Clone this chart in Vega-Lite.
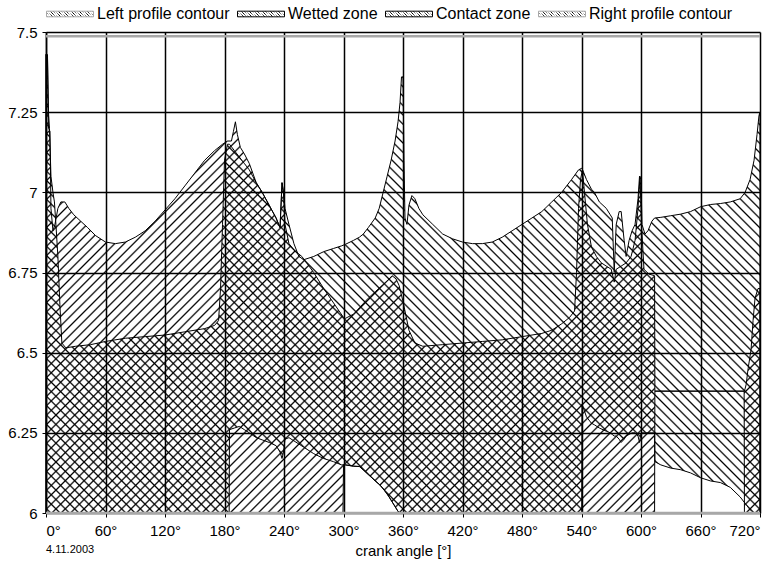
{
  "$schema": "https://vega.github.io/schema/vega-lite/v6.json",
  "autosize": "none",
  "width": 714,
  "height": 481,
  "padding": {"left": 46, "top": 32, "right": 20, "bottom": 49},
  "background": "white",
  "config": {
    "font": "Liberation Sans",
    "view": {"stroke": null},
    "axis": {
      "labelColor": "black", "labelFontSize": 15, "labelFont": "Liberation Sans",
      "tickColor": "black", "tickSize": 4, "tickWidth": 1,
      "domainColor": "black", "domainWidth": 1.5,
      "grid": true, "gridColor": "black", "gridWidth": 1.5, "gridOpacity": 1,
      "titleColor": "black", "titleFontSize": 15, "titleFontWeight": "normal", "titleFont": "Liberation Sans"
    }
  },
  "title": {
    "text": "4.11.2003", "orient": "bottom", "anchor": "start", "frame": "group",
    "fontSize": 11, "fontWeight": "normal", "color": "black", "offset": -14
  },
  "datasets": {
    "wetted": [
      {"angle": 0, "lo": 6.0, "hi": 7.43}, {"angle": 1.5, "lo": 6.0, "hi": 7.42}, {"angle": 2.5, "lo": 6.0, "hi": 7.25},
      {"angle": 3.5, "lo": 6.0, "hi": 7.2}, {"angle": 5, "lo": 6.0, "hi": 7.05}, {"angle": 7, "lo": 6.0, "hi": 7.0},
      {"angle": 8.5, "lo": 6.0, "hi": 6.97}, {"angle": 10, "lo": 6.0, "hi": 6.9}, {"angle": 12, "lo": 6.0, "hi": 6.8},
      {"angle": 14, "lo": 6.0, "hi": 6.65}, {"angle": 16, "lo": 6.0, "hi": 6.53}, {"angle": 20, "lo": 6.0, "hi": 6.515},
      {"angle": 30, "lo": 6.0, "hi": 6.52}, {"angle": 45, "lo": 6.0, "hi": 6.525}, {"angle": 60, "lo": 6.0, "hi": 6.535},
      {"angle": 80, "lo": 6.0, "hi": 6.545}, {"angle": 100, "lo": 6.0, "hi": 6.55}, {"angle": 120, "lo": 6.0, "hi": 6.555},
      {"angle": 140, "lo": 6.0, "hi": 6.565}, {"angle": 160, "lo": 6.0, "hi": 6.575}, {"angle": 170, "lo": 6.0, "hi": 6.585},
      {"angle": 174, "lo": 6.0, "hi": 6.6}, {"angle": 176, "lo": 6.0, "hi": 6.7}, {"angle": 178, "lo": 6.0, "hi": 6.9},
      {"angle": 180, "lo": 6.0, "hi": 7.1}, {"angle": 183, "lo": 6.0, "hi": 7.15}, {"angle": 184.7, "lo": 6.0, "hi": 7.15},
      {"angle": 185, "lo": 6.26, "hi": 7.15}, {"angle": 190, "lo": 6.265, "hi": 7.13}, {"angle": 195, "lo": 6.27, "hi": 7.11},
      {"angle": 200, "lo": 6.26, "hi": 7.09}, {"angle": 205, "lo": 6.25, "hi": 7.07}, {"angle": 212, "lo": 6.235, "hi": 7.03},
      {"angle": 218, "lo": 6.228, "hi": 7.0}, {"angle": 225, "lo": 6.22, "hi": 6.96}, {"angle": 232, "lo": 6.21, "hi": 6.92},
      {"angle": 236, "lo": 6.19, "hi": 6.89}, {"angle": 238, "lo": 6.17, "hi": 7.03}, {"angle": 239.5, "lo": 6.19, "hi": 7.0},
      {"angle": 241, "lo": 6.23, "hi": 6.95}, {"angle": 245, "lo": 6.235, "hi": 6.9}, {"angle": 250, "lo": 6.225, "hi": 6.84},
      {"angle": 255, "lo": 6.215, "hi": 6.8}, {"angle": 260, "lo": 6.205, "hi": 6.79}, {"angle": 270, "lo": 6.185, "hi": 6.8},
      {"angle": 280, "lo": 6.17, "hi": 6.815}, {"angle": 290, "lo": 6.16, "hi": 6.825}, {"angle": 298, "lo": 6.15, "hi": 6.833},
      {"angle": 302, "lo": 6.15, "hi": 6.838}, {"angle": 310, "lo": 6.146, "hi": 6.85}, {"angle": 316, "lo": 6.145, "hi": 6.86},
      {"angle": 320, "lo": 6.135, "hi": 6.87}, {"angle": 325, "lo": 6.12, "hi": 6.89}, {"angle": 332, "lo": 6.1, "hi": 6.92},
      {"angle": 336, "lo": 6.09, "hi": 6.95}, {"angle": 340, "lo": 6.075, "hi": 7.0}, {"angle": 344, "lo": 6.06, "hi": 7.05},
      {"angle": 348, "lo": 6.04, "hi": 7.1}, {"angle": 352, "lo": 6.02, "hi": 7.16}, {"angle": 355, "lo": 6.005, "hi": 7.22},
      {"angle": 357, "lo": 6.0, "hi": 7.28}, {"angle": 358.5, "lo": 6.0, "hi": 7.36}, {"angle": 360, "lo": 6.0, "hi": 7.36},
      {"angle": 361, "lo": 6.0, "hi": 7.1}, {"angle": 362, "lo": 6.0, "hi": 6.92}, {"angle": 364, "lo": 6.0, "hi": 6.9},
      {"angle": 366, "lo": 6.0, "hi": 6.96}, {"angle": 369, "lo": 6.0, "hi": 6.99}, {"angle": 372, "lo": 6.0, "hi": 6.98},
      {"angle": 376, "lo": 6.0, "hi": 6.95}, {"angle": 380, "lo": 6.0, "hi": 6.93}, {"angle": 390, "lo": 6.0, "hi": 6.9},
      {"angle": 400, "lo": 6.0, "hi": 6.87}, {"angle": 410, "lo": 6.0, "hi": 6.855}, {"angle": 420, "lo": 6.0, "hi": 6.845},
      {"angle": 430, "lo": 6.0, "hi": 6.84}, {"angle": 440, "lo": 6.0, "hi": 6.84}, {"angle": 450, "lo": 6.0, "hi": 6.845},
      {"angle": 460, "lo": 6.0, "hi": 6.86}, {"angle": 470, "lo": 6.0, "hi": 6.88}, {"angle": 480, "lo": 6.0, "hi": 6.9},
      {"angle": 490, "lo": 6.0, "hi": 6.92}, {"angle": 500, "lo": 6.0, "hi": 6.94}, {"angle": 510, "lo": 6.0, "hi": 6.97},
      {"angle": 520, "lo": 6.0, "hi": 7.0}, {"angle": 530, "lo": 6.0, "hi": 7.04}, {"angle": 537, "lo": 6.0, "hi": 7.07},
      {"angle": 540.2, "lo": 6.0, "hi": 7.075}, {"angle": 540.5, "lo": 6.34, "hi": 7.075}, {"angle": 545, "lo": 6.3, "hi": 7.04},
      {"angle": 550, "lo": 6.28, "hi": 7.01}, {"angle": 553, "lo": 6.275, "hi": 7.0}, {"angle": 558, "lo": 6.265, "hi": 6.97},
      {"angle": 565, "lo": 6.255, "hi": 6.95}, {"angle": 569, "lo": 6.25, "hi": 6.93}, {"angle": 571, "lo": 6.245, "hi": 6.92},
      {"angle": 573, "lo": 6.24, "hi": 6.75}, {"angle": 575, "lo": 6.24, "hi": 6.9}, {"angle": 578, "lo": 6.23, "hi": 6.94},
      {"angle": 580, "lo": 6.22, "hi": 6.94}, {"angle": 583, "lo": 6.23, "hi": 6.85}, {"angle": 585, "lo": 6.24, "hi": 6.8},
      {"angle": 588, "lo": 6.245, "hi": 6.85}, {"angle": 591, "lo": 6.25, "hi": 6.88}, {"angle": 594, "lo": 6.25, "hi": 6.9},
      {"angle": 597, "lo": 6.24, "hi": 6.98}, {"angle": 598.5, "lo": 6.22, "hi": 7.05}, {"angle": 600, "lo": 6.25, "hi": 7.04},
      {"angle": 601, "lo": 6.25, "hi": 6.9}, {"angle": 604, "lo": 6.25, "hi": 6.87}, {"angle": 607, "lo": 6.25, "hi": 6.88},
      {"angle": 611, "lo": 6.25, "hi": 6.91}, {"angle": 613.7, "lo": 6.25, "hi": 6.92}, {"angle": 614, "lo": 6.16, "hi": 6.92},
      {"angle": 620, "lo": 6.15, "hi": 6.922}, {"angle": 630, "lo": 6.14, "hi": 6.927}, {"angle": 640, "lo": 6.135, "hi": 6.932},
      {"angle": 650, "lo": 6.125, "hi": 6.94}, {"angle": 660, "lo": 6.11, "hi": 6.955}, {"angle": 670, "lo": 6.1, "hi": 6.962},
      {"angle": 680, "lo": 6.095, "hi": 6.965}, {"angle": 690, "lo": 6.08, "hi": 6.97}, {"angle": 700, "lo": 6.05, "hi": 6.98},
      {"angle": 705, "lo": 6.03, "hi": 7.0}, {"angle": 710, "lo": 6.01, "hi": 7.04}, {"angle": 714, "lo": 6.0, "hi": 7.1},
      {"angle": 717, "lo": 6.0, "hi": 7.18}, {"angle": 719, "lo": 6.0, "hi": 7.24}, {"angle": 720, "lo": 6.0, "hi": 7.25}
    ],
    "contact": [
      {"angle": 0, "lo": 6.0, "hi": 7.43}, {"angle": 1.5, "lo": 6.0, "hi": 7.43}, {"angle": 2.5, "lo": 6.0, "hi": 7.2},
      {"angle": 4, "lo": 6.0, "hi": 7.19}, {"angle": 5, "lo": 6.0, "hi": 6.95}, {"angle": 7, "lo": 6.0, "hi": 6.88},
      {"angle": 9, "lo": 6.0, "hi": 6.9}, {"angle": 12, "lo": 6.0, "hi": 6.95}, {"angle": 15, "lo": 6.0, "hi": 6.97},
      {"angle": 19, "lo": 6.0, "hi": 6.97}, {"angle": 23, "lo": 6.0, "hi": 6.95}, {"angle": 28, "lo": 6.0, "hi": 6.93},
      {"angle": 35, "lo": 6.0, "hi": 6.91}, {"angle": 42, "lo": 6.0, "hi": 6.89}, {"angle": 50, "lo": 6.0, "hi": 6.865},
      {"angle": 60, "lo": 6.0, "hi": 6.845}, {"angle": 70, "lo": 6.0, "hi": 6.84}, {"angle": 80, "lo": 6.0, "hi": 6.845},
      {"angle": 90, "lo": 6.0, "hi": 6.86}, {"angle": 100, "lo": 6.0, "hi": 6.88}, {"angle": 110, "lo": 6.0, "hi": 6.91},
      {"angle": 120, "lo": 6.0, "hi": 6.945}, {"angle": 130, "lo": 6.0, "hi": 6.98}, {"angle": 140, "lo": 6.0, "hi": 7.02},
      {"angle": 150, "lo": 6.0, "hi": 7.06}, {"angle": 160, "lo": 6.0, "hi": 7.1}, {"angle": 170, "lo": 6.0, "hi": 7.13},
      {"angle": 178, "lo": 6.0, "hi": 7.15}, {"angle": 183, "lo": 6.0, "hi": 7.16}, {"angle": 187, "lo": 6.0, "hi": 7.16},
      {"angle": 189, "lo": 6.0, "hi": 7.19}, {"angle": 191, "lo": 6.0, "hi": 7.22}, {"angle": 193, "lo": 6.0, "hi": 7.18},
      {"angle": 196, "lo": 6.0, "hi": 7.14}, {"angle": 200, "lo": 6.0, "hi": 7.12}, {"angle": 205, "lo": 6.0, "hi": 7.09},
      {"angle": 212, "lo": 6.0, "hi": 7.03}, {"angle": 218, "lo": 6.0, "hi": 7.0}, {"angle": 225, "lo": 6.0, "hi": 6.96},
      {"angle": 232, "lo": 6.0, "hi": 6.92}, {"angle": 236, "lo": 6.0, "hi": 6.89}, {"angle": 238, "lo": 6.0, "hi": 7.03},
      {"angle": 239.5, "lo": 6.0, "hi": 7.0}, {"angle": 241, "lo": 6.0, "hi": 6.9}, {"angle": 245, "lo": 6.0, "hi": 6.84},
      {"angle": 250, "lo": 6.0, "hi": 6.82}, {"angle": 258, "lo": 6.0, "hi": 6.8}, {"angle": 270, "lo": 6.0, "hi": 6.75},
      {"angle": 280, "lo": 6.0, "hi": 6.7}, {"angle": 290, "lo": 6.0, "hi": 6.655}, {"angle": 299.5, "lo": 6.0, "hi": 6.612},
      {"angle": 300, "lo": 6.15, "hi": 6.61}, {"angle": 302, "lo": 6.15, "hi": 6.607}, {"angle": 310, "lo": 6.146, "hi": 6.62},
      {"angle": 316, "lo": 6.145, "hi": 6.64}, {"angle": 325, "lo": 6.12, "hi": 6.67}, {"angle": 332, "lo": 6.1, "hi": 6.69},
      {"angle": 339, "lo": 6.08, "hi": 6.71}, {"angle": 346, "lo": 6.05, "hi": 6.73}, {"angle": 349, "lo": 6.035, "hi": 6.74},
      {"angle": 353, "lo": 6.015, "hi": 6.73}, {"angle": 356, "lo": 6.0, "hi": 6.71}, {"angle": 360, "lo": 6.0, "hi": 6.66},
      {"angle": 366, "lo": 6.0, "hi": 6.57}, {"angle": 372, "lo": 6.0, "hi": 6.53}, {"angle": 380, "lo": 6.0, "hi": 6.52},
      {"angle": 400, "lo": 6.0, "hi": 6.525}, {"angle": 420, "lo": 6.0, "hi": 6.53}, {"angle": 440, "lo": 6.0, "hi": 6.535},
      {"angle": 460, "lo": 6.0, "hi": 6.54}, {"angle": 480, "lo": 6.0, "hi": 6.55}, {"angle": 500, "lo": 6.0, "hi": 6.56},
      {"angle": 510, "lo": 6.0, "hi": 6.57}, {"angle": 520, "lo": 6.0, "hi": 6.59}, {"angle": 528, "lo": 6.0, "hi": 6.61},
      {"angle": 533, "lo": 6.0, "hi": 6.63}, {"angle": 535, "lo": 6.0, "hi": 6.75}, {"angle": 537, "lo": 6.0, "hi": 6.95},
      {"angle": 539, "lo": 6.0, "hi": 7.04}, {"angle": 541, "lo": 6.0, "hi": 7.07}, {"angle": 543, "lo": 6.0, "hi": 7.0},
      {"angle": 546, "lo": 6.0, "hi": 6.9}, {"angle": 550, "lo": 6.0, "hi": 6.83}, {"angle": 555, "lo": 6.0, "hi": 6.8},
      {"angle": 560, "lo": 6.0, "hi": 6.78}, {"angle": 565, "lo": 6.0, "hi": 6.77}, {"angle": 570, "lo": 6.0, "hi": 6.76},
      {"angle": 573, "lo": 6.0, "hi": 6.72}, {"angle": 575, "lo": 6.0, "hi": 6.76}, {"angle": 580, "lo": 6.0, "hi": 6.77},
      {"angle": 585, "lo": 6.0, "hi": 6.78}, {"angle": 590, "lo": 6.0, "hi": 6.8}, {"angle": 594, "lo": 6.0, "hi": 6.85},
      {"angle": 597, "lo": 6.0, "hi": 6.95}, {"angle": 599, "lo": 6.0, "hi": 7.05}, {"angle": 600.5, "lo": 6.0, "hi": 6.9},
      {"angle": 603, "lo": 6.0, "hi": 6.76}, {"angle": 608, "lo": 6.0, "hi": 6.745}, {"angle": 613.7, "lo": 6.0, "hi": 6.74},
      {"angle": 614, "lo": 6.38, "hi": 6.38}, {"angle": 704, "lo": 6.38, "hi": 6.38}, {"angle": 704.3, "lo": 6.0, "hi": 6.38},
      {"angle": 706, "lo": 6.0, "hi": 6.4}, {"angle": 708, "lo": 6.0, "hi": 6.45}, {"angle": 711, "lo": 6.0, "hi": 6.51},
      {"angle": 713, "lo": 6.0, "hi": 6.6}, {"angle": 715, "lo": 6.0, "hi": 6.67}, {"angle": 718, "lo": 6.0, "hi": 6.7},
      {"angle": 720, "lo": 6.0, "hi": 6.7}
    ],
    "profiles": [
      {"series": "Left profile contour", "angle": 0, "value": 7.487},
      {"series": "Left profile contour", "angle": 720, "value": 7.487},
      {"series": "Right profile contour", "angle": 0, "value": 6.0},
      {"series": "Right profile contour", "angle": 720, "value": 6.0}
    ]
  },
  "encoding": {
    "x": {
      "field": "angle", "type": "quantitative",
      "scale": {"domain": [0, 720], "nice": false, "zero": false},
      "axis": {
        "values": [0, 60, 120, 180, 240, 300, 360, 420, 480, 540, 600, 660, 720],
        "labelExpr": "datum.value + '°'", "labelPadding": 6, "domain": false,
        "title": "crank angle [°]", "titlePadding": 5
      }
    }
  },
  "layer": [
    {
      "data": {"name": "wetted"},
      "mark": {
        "type": "area", "strokeWidth": 1, "fillOpacity": 1,
        "fill": {
          "gradient": "linear", "x1": 0, "y1": 1, "x2": 1.1627, "y2": 0.2533,
          "stops": [
{"offset":0.0025,"color":"#0000"},{"offset":0.004,"color":"#000"},{"offset":0.0055,"color":"#0000"},
{"offset":0.0105,"color":"#0000"},{"offset":0.012,"color":"#000"},{"offset":0.0135,"color":"#0000"},
{"offset":0.0185,"color":"#0000"},{"offset":0.020,"color":"#000"},{"offset":0.0215,"color":"#0000"},
{"offset":0.0265,"color":"#0000"},{"offset":0.028,"color":"#000"},{"offset":0.0295,"color":"#0000"},
{"offset":0.0345,"color":"#0000"},{"offset":0.036,"color":"#000"},{"offset":0.0375,"color":"#0000"},
{"offset":0.0425,"color":"#0000"},{"offset":0.044,"color":"#000"},{"offset":0.0455,"color":"#0000"},
{"offset":0.0505,"color":"#0000"},{"offset":0.052,"color":"#000"},{"offset":0.0535,"color":"#0000"},
{"offset":0.0585,"color":"#0000"},{"offset":0.060,"color":"#000"},{"offset":0.0615,"color":"#0000"},
{"offset":0.0665,"color":"#0000"},{"offset":0.068,"color":"#000"},{"offset":0.0695,"color":"#0000"},
{"offset":0.0745,"color":"#0000"},{"offset":0.076,"color":"#000"},{"offset":0.0775,"color":"#0000"},
{"offset":0.0825,"color":"#0000"},{"offset":0.084,"color":"#000"},{"offset":0.0855,"color":"#0000"},
{"offset":0.0905,"color":"#0000"},{"offset":0.092,"color":"#000"},{"offset":0.0935,"color":"#0000"},
{"offset":0.0985,"color":"#0000"},{"offset":0.100,"color":"#000"},{"offset":0.1015,"color":"#0000"},
{"offset":0.1065,"color":"#0000"},{"offset":0.108,"color":"#000"},{"offset":0.1095,"color":"#0000"},
{"offset":0.1145,"color":"#0000"},{"offset":0.116,"color":"#000"},{"offset":0.1175,"color":"#0000"},
{"offset":0.1225,"color":"#0000"},{"offset":0.124,"color":"#000"},{"offset":0.1255,"color":"#0000"},
{"offset":0.1305,"color":"#0000"},{"offset":0.132,"color":"#000"},{"offset":0.1335,"color":"#0000"},
{"offset":0.1385,"color":"#0000"},{"offset":0.140,"color":"#000"},{"offset":0.1415,"color":"#0000"},
{"offset":0.1465,"color":"#0000"},{"offset":0.148,"color":"#000"},{"offset":0.1495,"color":"#0000"},
{"offset":0.1545,"color":"#0000"},{"offset":0.156,"color":"#000"},{"offset":0.1575,"color":"#0000"},
{"offset":0.1625,"color":"#0000"},{"offset":0.164,"color":"#000"},{"offset":0.1655,"color":"#0000"},
{"offset":0.1705,"color":"#0000"},{"offset":0.172,"color":"#000"},{"offset":0.1735,"color":"#0000"},
{"offset":0.1785,"color":"#0000"},{"offset":0.180,"color":"#000"},{"offset":0.1815,"color":"#0000"},
{"offset":0.1865,"color":"#0000"},{"offset":0.188,"color":"#000"},{"offset":0.1895,"color":"#0000"},
{"offset":0.1945,"color":"#0000"},{"offset":0.196,"color":"#000"},{"offset":0.1975,"color":"#0000"},
{"offset":0.2025,"color":"#0000"},{"offset":0.204,"color":"#000"},{"offset":0.2055,"color":"#0000"},
{"offset":0.2105,"color":"#0000"},{"offset":0.212,"color":"#000"},{"offset":0.2135,"color":"#0000"},
{"offset":0.2185,"color":"#0000"},{"offset":0.220,"color":"#000"},{"offset":0.2215,"color":"#0000"},
{"offset":0.2265,"color":"#0000"},{"offset":0.228,"color":"#000"},{"offset":0.2295,"color":"#0000"},
{"offset":0.2345,"color":"#0000"},{"offset":0.236,"color":"#000"},{"offset":0.2375,"color":"#0000"},
{"offset":0.2425,"color":"#0000"},{"offset":0.244,"color":"#000"},{"offset":0.2455,"color":"#0000"},
{"offset":0.2505,"color":"#0000"},{"offset":0.252,"color":"#000"},{"offset":0.2535,"color":"#0000"},
{"offset":0.2585,"color":"#0000"},{"offset":0.260,"color":"#000"},{"offset":0.2615,"color":"#0000"},
{"offset":0.2665,"color":"#0000"},{"offset":0.268,"color":"#000"},{"offset":0.2695,"color":"#0000"},
{"offset":0.2745,"color":"#0000"},{"offset":0.276,"color":"#000"},{"offset":0.2775,"color":"#0000"},
{"offset":0.2825,"color":"#0000"},{"offset":0.284,"color":"#000"},{"offset":0.2855,"color":"#0000"},
{"offset":0.2905,"color":"#0000"},{"offset":0.292,"color":"#000"},{"offset":0.2935,"color":"#0000"},
{"offset":0.2985,"color":"#0000"},{"offset":0.300,"color":"#000"},{"offset":0.3015,"color":"#0000"},
{"offset":0.3065,"color":"#0000"},{"offset":0.308,"color":"#000"},{"offset":0.3095,"color":"#0000"},
{"offset":0.3145,"color":"#0000"},{"offset":0.316,"color":"#000"},{"offset":0.3175,"color":"#0000"},
{"offset":0.3225,"color":"#0000"},{"offset":0.324,"color":"#000"},{"offset":0.3255,"color":"#0000"},
{"offset":0.3305,"color":"#0000"},{"offset":0.332,"color":"#000"},{"offset":0.3335,"color":"#0000"},
{"offset":0.3385,"color":"#0000"},{"offset":0.340,"color":"#000"},{"offset":0.3415,"color":"#0000"},
{"offset":0.3465,"color":"#0000"},{"offset":0.348,"color":"#000"},{"offset":0.3495,"color":"#0000"},
{"offset":0.3545,"color":"#0000"},{"offset":0.356,"color":"#000"},{"offset":0.3575,"color":"#0000"},
{"offset":0.3625,"color":"#0000"},{"offset":0.364,"color":"#000"},{"offset":0.3655,"color":"#0000"},
{"offset":0.3705,"color":"#0000"},{"offset":0.372,"color":"#000"},{"offset":0.3735,"color":"#0000"},
{"offset":0.3785,"color":"#0000"},{"offset":0.380,"color":"#000"},{"offset":0.3815,"color":"#0000"},
{"offset":0.3865,"color":"#0000"},{"offset":0.388,"color":"#000"},{"offset":0.3895,"color":"#0000"},
{"offset":0.3945,"color":"#0000"},{"offset":0.396,"color":"#000"},{"offset":0.3975,"color":"#0000"},
{"offset":0.4025,"color":"#0000"},{"offset":0.404,"color":"#000"},{"offset":0.4055,"color":"#0000"},
{"offset":0.4105,"color":"#0000"},{"offset":0.412,"color":"#000"},{"offset":0.4135,"color":"#0000"},
{"offset":0.4185,"color":"#0000"},{"offset":0.420,"color":"#000"},{"offset":0.4215,"color":"#0000"},
{"offset":0.4265,"color":"#0000"},{"offset":0.428,"color":"#000"},{"offset":0.4295,"color":"#0000"},
{"offset":0.4345,"color":"#0000"},{"offset":0.436,"color":"#000"},{"offset":0.4375,"color":"#0000"},
{"offset":0.4425,"color":"#0000"},{"offset":0.444,"color":"#000"},{"offset":0.4455,"color":"#0000"},
{"offset":0.4505,"color":"#0000"},{"offset":0.452,"color":"#000"},{"offset":0.4535,"color":"#0000"},
{"offset":0.4585,"color":"#0000"},{"offset":0.460,"color":"#000"},{"offset":0.4615,"color":"#0000"},
{"offset":0.4665,"color":"#0000"},{"offset":0.468,"color":"#000"},{"offset":0.4695,"color":"#0000"},
{"offset":0.4745,"color":"#0000"},{"offset":0.476,"color":"#000"},{"offset":0.4775,"color":"#0000"},
{"offset":0.4825,"color":"#0000"},{"offset":0.484,"color":"#000"},{"offset":0.4855,"color":"#0000"},
{"offset":0.4905,"color":"#0000"},{"offset":0.492,"color":"#000"},{"offset":0.4935,"color":"#0000"},
{"offset":0.4985,"color":"#0000"},{"offset":0.500,"color":"#000"},{"offset":0.5015,"color":"#0000"},
{"offset":0.5065,"color":"#0000"},{"offset":0.508,"color":"#000"},{"offset":0.5095,"color":"#0000"},
{"offset":0.5145,"color":"#0000"},{"offset":0.516,"color":"#000"},{"offset":0.5175,"color":"#0000"},
{"offset":0.5225,"color":"#0000"},{"offset":0.524,"color":"#000"},{"offset":0.5255,"color":"#0000"},
{"offset":0.5305,"color":"#0000"},{"offset":0.532,"color":"#000"},{"offset":0.5335,"color":"#0000"},
{"offset":0.5385,"color":"#0000"},{"offset":0.540,"color":"#000"},{"offset":0.5415,"color":"#0000"},
{"offset":0.5465,"color":"#0000"},{"offset":0.548,"color":"#000"},{"offset":0.5495,"color":"#0000"},
{"offset":0.5545,"color":"#0000"},{"offset":0.556,"color":"#000"},{"offset":0.5575,"color":"#0000"},
{"offset":0.5625,"color":"#0000"},{"offset":0.564,"color":"#000"},{"offset":0.5655,"color":"#0000"},
{"offset":0.5705,"color":"#0000"},{"offset":0.572,"color":"#000"},{"offset":0.5735,"color":"#0000"},
{"offset":0.5785,"color":"#0000"},{"offset":0.580,"color":"#000"},{"offset":0.5815,"color":"#0000"},
{"offset":0.5865,"color":"#0000"},{"offset":0.588,"color":"#000"},{"offset":0.5895,"color":"#0000"},
{"offset":0.5945,"color":"#0000"},{"offset":0.596,"color":"#000"},{"offset":0.5975,"color":"#0000"},
{"offset":0.6025,"color":"#0000"},{"offset":0.604,"color":"#000"},{"offset":0.6055,"color":"#0000"},
{"offset":0.6105,"color":"#0000"},{"offset":0.612,"color":"#000"},{"offset":0.6135,"color":"#0000"},
{"offset":0.6185,"color":"#0000"},{"offset":0.620,"color":"#000"},{"offset":0.6215,"color":"#0000"},
{"offset":0.6265,"color":"#0000"},{"offset":0.628,"color":"#000"},{"offset":0.6295,"color":"#0000"},
{"offset":0.6345,"color":"#0000"},{"offset":0.636,"color":"#000"},{"offset":0.6375,"color":"#0000"},
{"offset":0.6425,"color":"#0000"},{"offset":0.644,"color":"#000"},{"offset":0.6455,"color":"#0000"},
{"offset":0.6505,"color":"#0000"},{"offset":0.652,"color":"#000"},{"offset":0.6535,"color":"#0000"},
{"offset":0.6585,"color":"#0000"},{"offset":0.660,"color":"#000"},{"offset":0.6615,"color":"#0000"},
{"offset":0.6665,"color":"#0000"},{"offset":0.668,"color":"#000"},{"offset":0.6695,"color":"#0000"},
{"offset":0.6745,"color":"#0000"},{"offset":0.676,"color":"#000"},{"offset":0.6775,"color":"#0000"},
{"offset":0.6825,"color":"#0000"},{"offset":0.684,"color":"#000"},{"offset":0.6855,"color":"#0000"},
{"offset":0.6905,"color":"#0000"},{"offset":0.692,"color":"#000"},{"offset":0.6935,"color":"#0000"},
{"offset":0.6985,"color":"#0000"},{"offset":0.700,"color":"#000"},{"offset":0.7015,"color":"#0000"},
{"offset":0.7065,"color":"#0000"},{"offset":0.708,"color":"#000"},{"offset":0.7095,"color":"#0000"},
{"offset":0.7145,"color":"#0000"},{"offset":0.716,"color":"#000"},{"offset":0.7175,"color":"#0000"},
{"offset":0.7225,"color":"#0000"},{"offset":0.724,"color":"#000"},{"offset":0.7255,"color":"#0000"},
{"offset":0.7305,"color":"#0000"},{"offset":0.732,"color":"#000"},{"offset":0.7335,"color":"#0000"},
{"offset":0.7385,"color":"#0000"},{"offset":0.740,"color":"#000"},{"offset":0.7415,"color":"#0000"},
{"offset":0.7465,"color":"#0000"},{"offset":0.748,"color":"#000"},{"offset":0.7495,"color":"#0000"},
{"offset":0.7545,"color":"#0000"},{"offset":0.756,"color":"#000"},{"offset":0.7575,"color":"#0000"},
{"offset":0.7625,"color":"#0000"},{"offset":0.764,"color":"#000"},{"offset":0.7655,"color":"#0000"},
{"offset":0.7705,"color":"#0000"},{"offset":0.772,"color":"#000"},{"offset":0.7735,"color":"#0000"},
{"offset":0.7785,"color":"#0000"},{"offset":0.780,"color":"#000"},{"offset":0.7815,"color":"#0000"},
{"offset":0.7865,"color":"#0000"},{"offset":0.788,"color":"#000"},{"offset":0.7895,"color":"#0000"},
{"offset":0.7945,"color":"#0000"},{"offset":0.796,"color":"#000"},{"offset":0.7975,"color":"#0000"},
{"offset":0.8025,"color":"#0000"},{"offset":0.804,"color":"#000"},{"offset":0.8055,"color":"#0000"},
{"offset":0.8105,"color":"#0000"},{"offset":0.812,"color":"#000"},{"offset":0.8135,"color":"#0000"},
{"offset":0.8185,"color":"#0000"},{"offset":0.820,"color":"#000"},{"offset":0.8215,"color":"#0000"},
{"offset":0.8265,"color":"#0000"},{"offset":0.828,"color":"#000"},{"offset":0.8295,"color":"#0000"},
{"offset":0.8345,"color":"#0000"},{"offset":0.836,"color":"#000"},{"offset":0.8375,"color":"#0000"},
{"offset":0.8425,"color":"#0000"},{"offset":0.844,"color":"#000"},{"offset":0.8455,"color":"#0000"},
{"offset":0.8505,"color":"#0000"},{"offset":0.852,"color":"#000"},{"offset":0.8535,"color":"#0000"},
{"offset":0.8585,"color":"#0000"},{"offset":0.860,"color":"#000"},{"offset":0.8615,"color":"#0000"},
{"offset":0.8665,"color":"#0000"},{"offset":0.868,"color":"#000"},{"offset":0.8695,"color":"#0000"},
{"offset":0.8745,"color":"#0000"},{"offset":0.876,"color":"#000"},{"offset":0.8775,"color":"#0000"},
{"offset":0.8825,"color":"#0000"},{"offset":0.884,"color":"#000"},{"offset":0.8855,"color":"#0000"},
{"offset":0.8905,"color":"#0000"},{"offset":0.892,"color":"#000"},{"offset":0.8935,"color":"#0000"},
{"offset":0.8985,"color":"#0000"},{"offset":0.900,"color":"#000"},{"offset":0.9015,"color":"#0000"},
{"offset":0.9065,"color":"#0000"},{"offset":0.908,"color":"#000"},{"offset":0.9095,"color":"#0000"},
{"offset":0.9145,"color":"#0000"},{"offset":0.916,"color":"#000"},{"offset":0.9175,"color":"#0000"},
{"offset":0.9225,"color":"#0000"},{"offset":0.924,"color":"#000"},{"offset":0.9255,"color":"#0000"},
{"offset":0.9305,"color":"#0000"},{"offset":0.932,"color":"#000"},{"offset":0.9335,"color":"#0000"},
{"offset":0.9385,"color":"#0000"},{"offset":0.940,"color":"#000"},{"offset":0.9415,"color":"#0000"},
{"offset":0.9465,"color":"#0000"},{"offset":0.948,"color":"#000"},{"offset":0.9495,"color":"#0000"},
{"offset":0.9545,"color":"#0000"},{"offset":0.956,"color":"#000"},{"offset":0.9575,"color":"#0000"},
{"offset":0.9625,"color":"#0000"},{"offset":0.964,"color":"#000"},{"offset":0.9655,"color":"#0000"},
{"offset":0.9705,"color":"#0000"},{"offset":0.972,"color":"#000"},{"offset":0.9735,"color":"#0000"},
{"offset":0.9785,"color":"#0000"},{"offset":0.980,"color":"#000"},{"offset":0.9815,"color":"#0000"},
{"offset":0.9865,"color":"#0000"},{"offset":0.988,"color":"#000"},{"offset":0.9895,"color":"#0000"},
{"offset":0.9945,"color":"#0000"},{"offset":0.996,"color":"#000"},{"offset":0.9975,"color":"#0000"}
          ]
        }
      },
      "encoding": {
        "y": {
          "field": "hi", "type": "quantitative",
          "scale": {"domain": [6, 7.5], "nice": false, "zero": false},
          "axis": {"values": [6, 6.25, 6.5, 6.75, 7, 7.25, 7.5], "labelExpr": "'' + datum.value", "title": null, "labelPadding": 5}
        },
        "y2": {"field": "lo"},
        "stroke": {
          "datum": "Wetted zone", "type": "nominal",
          "scale": {
            "domain": ["Left profile contour", "Wetted zone", "Contact zone", "Right profile contour"],
            "range": ["#a8a8a8", "#000000", "#000000", "#a8a8a8"]
          },
          "legend": {
            "orient": "top", "direction": "horizontal", "title": null, "offset": 9,
            "labelFontSize": 16, "labelColor": "black", "labelFont": "Liberation Sans", "labelLimit": 300,
            "labelOffset": 3, "columnPadding": 5, "symbolSize": 2209, "symbolStrokeWidth": 1,
            "symbolType": "M-1,-0.12H1V0.12H-1Z"
          }
        }
      }
    },
    {
      "data": {"name": "contact"},
      "mark": {
        "type": "area", "strokeWidth": 1, "fillOpacity": 1,
        "fill": {
          "gradient": "linear", "x1": 0, "y1": 0, "x2": 1.1627, "y2": 0.7467,
          "stops": [
{"offset":0.0025,"color":"#0000"},{"offset":0.004,"color":"#000"},{"offset":0.0055,"color":"#0000"},
{"offset":0.0105,"color":"#0000"},{"offset":0.012,"color":"#000"},{"offset":0.0135,"color":"#0000"},
{"offset":0.0185,"color":"#0000"},{"offset":0.020,"color":"#000"},{"offset":0.0215,"color":"#0000"},
{"offset":0.0265,"color":"#0000"},{"offset":0.028,"color":"#000"},{"offset":0.0295,"color":"#0000"},
{"offset":0.0345,"color":"#0000"},{"offset":0.036,"color":"#000"},{"offset":0.0375,"color":"#0000"},
{"offset":0.0425,"color":"#0000"},{"offset":0.044,"color":"#000"},{"offset":0.0455,"color":"#0000"},
{"offset":0.0505,"color":"#0000"},{"offset":0.052,"color":"#000"},{"offset":0.0535,"color":"#0000"},
{"offset":0.0585,"color":"#0000"},{"offset":0.060,"color":"#000"},{"offset":0.0615,"color":"#0000"},
{"offset":0.0665,"color":"#0000"},{"offset":0.068,"color":"#000"},{"offset":0.0695,"color":"#0000"},
{"offset":0.0745,"color":"#0000"},{"offset":0.076,"color":"#000"},{"offset":0.0775,"color":"#0000"},
{"offset":0.0825,"color":"#0000"},{"offset":0.084,"color":"#000"},{"offset":0.0855,"color":"#0000"},
{"offset":0.0905,"color":"#0000"},{"offset":0.092,"color":"#000"},{"offset":0.0935,"color":"#0000"},
{"offset":0.0985,"color":"#0000"},{"offset":0.100,"color":"#000"},{"offset":0.1015,"color":"#0000"},
{"offset":0.1065,"color":"#0000"},{"offset":0.108,"color":"#000"},{"offset":0.1095,"color":"#0000"},
{"offset":0.1145,"color":"#0000"},{"offset":0.116,"color":"#000"},{"offset":0.1175,"color":"#0000"},
{"offset":0.1225,"color":"#0000"},{"offset":0.124,"color":"#000"},{"offset":0.1255,"color":"#0000"},
{"offset":0.1305,"color":"#0000"},{"offset":0.132,"color":"#000"},{"offset":0.1335,"color":"#0000"},
{"offset":0.1385,"color":"#0000"},{"offset":0.140,"color":"#000"},{"offset":0.1415,"color":"#0000"},
{"offset":0.1465,"color":"#0000"},{"offset":0.148,"color":"#000"},{"offset":0.1495,"color":"#0000"},
{"offset":0.1545,"color":"#0000"},{"offset":0.156,"color":"#000"},{"offset":0.1575,"color":"#0000"},
{"offset":0.1625,"color":"#0000"},{"offset":0.164,"color":"#000"},{"offset":0.1655,"color":"#0000"},
{"offset":0.1705,"color":"#0000"},{"offset":0.172,"color":"#000"},{"offset":0.1735,"color":"#0000"},
{"offset":0.1785,"color":"#0000"},{"offset":0.180,"color":"#000"},{"offset":0.1815,"color":"#0000"},
{"offset":0.1865,"color":"#0000"},{"offset":0.188,"color":"#000"},{"offset":0.1895,"color":"#0000"},
{"offset":0.1945,"color":"#0000"},{"offset":0.196,"color":"#000"},{"offset":0.1975,"color":"#0000"},
{"offset":0.2025,"color":"#0000"},{"offset":0.204,"color":"#000"},{"offset":0.2055,"color":"#0000"},
{"offset":0.2105,"color":"#0000"},{"offset":0.212,"color":"#000"},{"offset":0.2135,"color":"#0000"},
{"offset":0.2185,"color":"#0000"},{"offset":0.220,"color":"#000"},{"offset":0.2215,"color":"#0000"},
{"offset":0.2265,"color":"#0000"},{"offset":0.228,"color":"#000"},{"offset":0.2295,"color":"#0000"},
{"offset":0.2345,"color":"#0000"},{"offset":0.236,"color":"#000"},{"offset":0.2375,"color":"#0000"},
{"offset":0.2425,"color":"#0000"},{"offset":0.244,"color":"#000"},{"offset":0.2455,"color":"#0000"},
{"offset":0.2505,"color":"#0000"},{"offset":0.252,"color":"#000"},{"offset":0.2535,"color":"#0000"},
{"offset":0.2585,"color":"#0000"},{"offset":0.260,"color":"#000"},{"offset":0.2615,"color":"#0000"},
{"offset":0.2665,"color":"#0000"},{"offset":0.268,"color":"#000"},{"offset":0.2695,"color":"#0000"},
{"offset":0.2745,"color":"#0000"},{"offset":0.276,"color":"#000"},{"offset":0.2775,"color":"#0000"},
{"offset":0.2825,"color":"#0000"},{"offset":0.284,"color":"#000"},{"offset":0.2855,"color":"#0000"},
{"offset":0.2905,"color":"#0000"},{"offset":0.292,"color":"#000"},{"offset":0.2935,"color":"#0000"},
{"offset":0.2985,"color":"#0000"},{"offset":0.300,"color":"#000"},{"offset":0.3015,"color":"#0000"},
{"offset":0.3065,"color":"#0000"},{"offset":0.308,"color":"#000"},{"offset":0.3095,"color":"#0000"},
{"offset":0.3145,"color":"#0000"},{"offset":0.316,"color":"#000"},{"offset":0.3175,"color":"#0000"},
{"offset":0.3225,"color":"#0000"},{"offset":0.324,"color":"#000"},{"offset":0.3255,"color":"#0000"},
{"offset":0.3305,"color":"#0000"},{"offset":0.332,"color":"#000"},{"offset":0.3335,"color":"#0000"},
{"offset":0.3385,"color":"#0000"},{"offset":0.340,"color":"#000"},{"offset":0.3415,"color":"#0000"},
{"offset":0.3465,"color":"#0000"},{"offset":0.348,"color":"#000"},{"offset":0.3495,"color":"#0000"},
{"offset":0.3545,"color":"#0000"},{"offset":0.356,"color":"#000"},{"offset":0.3575,"color":"#0000"},
{"offset":0.3625,"color":"#0000"},{"offset":0.364,"color":"#000"},{"offset":0.3655,"color":"#0000"},
{"offset":0.3705,"color":"#0000"},{"offset":0.372,"color":"#000"},{"offset":0.3735,"color":"#0000"},
{"offset":0.3785,"color":"#0000"},{"offset":0.380,"color":"#000"},{"offset":0.3815,"color":"#0000"},
{"offset":0.3865,"color":"#0000"},{"offset":0.388,"color":"#000"},{"offset":0.3895,"color":"#0000"},
{"offset":0.3945,"color":"#0000"},{"offset":0.396,"color":"#000"},{"offset":0.3975,"color":"#0000"},
{"offset":0.4025,"color":"#0000"},{"offset":0.404,"color":"#000"},{"offset":0.4055,"color":"#0000"},
{"offset":0.4105,"color":"#0000"},{"offset":0.412,"color":"#000"},{"offset":0.4135,"color":"#0000"},
{"offset":0.4185,"color":"#0000"},{"offset":0.420,"color":"#000"},{"offset":0.4215,"color":"#0000"},
{"offset":0.4265,"color":"#0000"},{"offset":0.428,"color":"#000"},{"offset":0.4295,"color":"#0000"},
{"offset":0.4345,"color":"#0000"},{"offset":0.436,"color":"#000"},{"offset":0.4375,"color":"#0000"},
{"offset":0.4425,"color":"#0000"},{"offset":0.444,"color":"#000"},{"offset":0.4455,"color":"#0000"},
{"offset":0.4505,"color":"#0000"},{"offset":0.452,"color":"#000"},{"offset":0.4535,"color":"#0000"},
{"offset":0.4585,"color":"#0000"},{"offset":0.460,"color":"#000"},{"offset":0.4615,"color":"#0000"},
{"offset":0.4665,"color":"#0000"},{"offset":0.468,"color":"#000"},{"offset":0.4695,"color":"#0000"},
{"offset":0.4745,"color":"#0000"},{"offset":0.476,"color":"#000"},{"offset":0.4775,"color":"#0000"},
{"offset":0.4825,"color":"#0000"},{"offset":0.484,"color":"#000"},{"offset":0.4855,"color":"#0000"},
{"offset":0.4905,"color":"#0000"},{"offset":0.492,"color":"#000"},{"offset":0.4935,"color":"#0000"},
{"offset":0.4985,"color":"#0000"},{"offset":0.500,"color":"#000"},{"offset":0.5015,"color":"#0000"},
{"offset":0.5065,"color":"#0000"},{"offset":0.508,"color":"#000"},{"offset":0.5095,"color":"#0000"},
{"offset":0.5145,"color":"#0000"},{"offset":0.516,"color":"#000"},{"offset":0.5175,"color":"#0000"},
{"offset":0.5225,"color":"#0000"},{"offset":0.524,"color":"#000"},{"offset":0.5255,"color":"#0000"},
{"offset":0.5305,"color":"#0000"},{"offset":0.532,"color":"#000"},{"offset":0.5335,"color":"#0000"},
{"offset":0.5385,"color":"#0000"},{"offset":0.540,"color":"#000"},{"offset":0.5415,"color":"#0000"},
{"offset":0.5465,"color":"#0000"},{"offset":0.548,"color":"#000"},{"offset":0.5495,"color":"#0000"},
{"offset":0.5545,"color":"#0000"},{"offset":0.556,"color":"#000"},{"offset":0.5575,"color":"#0000"},
{"offset":0.5625,"color":"#0000"},{"offset":0.564,"color":"#000"},{"offset":0.5655,"color":"#0000"},
{"offset":0.5705,"color":"#0000"},{"offset":0.572,"color":"#000"},{"offset":0.5735,"color":"#0000"},
{"offset":0.5785,"color":"#0000"},{"offset":0.580,"color":"#000"},{"offset":0.5815,"color":"#0000"},
{"offset":0.5865,"color":"#0000"},{"offset":0.588,"color":"#000"},{"offset":0.5895,"color":"#0000"},
{"offset":0.5945,"color":"#0000"},{"offset":0.596,"color":"#000"},{"offset":0.5975,"color":"#0000"},
{"offset":0.6025,"color":"#0000"},{"offset":0.604,"color":"#000"},{"offset":0.6055,"color":"#0000"},
{"offset":0.6105,"color":"#0000"},{"offset":0.612,"color":"#000"},{"offset":0.6135,"color":"#0000"},
{"offset":0.6185,"color":"#0000"},{"offset":0.620,"color":"#000"},{"offset":0.6215,"color":"#0000"},
{"offset":0.6265,"color":"#0000"},{"offset":0.628,"color":"#000"},{"offset":0.6295,"color":"#0000"},
{"offset":0.6345,"color":"#0000"},{"offset":0.636,"color":"#000"},{"offset":0.6375,"color":"#0000"},
{"offset":0.6425,"color":"#0000"},{"offset":0.644,"color":"#000"},{"offset":0.6455,"color":"#0000"},
{"offset":0.6505,"color":"#0000"},{"offset":0.652,"color":"#000"},{"offset":0.6535,"color":"#0000"},
{"offset":0.6585,"color":"#0000"},{"offset":0.660,"color":"#000"},{"offset":0.6615,"color":"#0000"},
{"offset":0.6665,"color":"#0000"},{"offset":0.668,"color":"#000"},{"offset":0.6695,"color":"#0000"},
{"offset":0.6745,"color":"#0000"},{"offset":0.676,"color":"#000"},{"offset":0.6775,"color":"#0000"},
{"offset":0.6825,"color":"#0000"},{"offset":0.684,"color":"#000"},{"offset":0.6855,"color":"#0000"},
{"offset":0.6905,"color":"#0000"},{"offset":0.692,"color":"#000"},{"offset":0.6935,"color":"#0000"},
{"offset":0.6985,"color":"#0000"},{"offset":0.700,"color":"#000"},{"offset":0.7015,"color":"#0000"},
{"offset":0.7065,"color":"#0000"},{"offset":0.708,"color":"#000"},{"offset":0.7095,"color":"#0000"},
{"offset":0.7145,"color":"#0000"},{"offset":0.716,"color":"#000"},{"offset":0.7175,"color":"#0000"},
{"offset":0.7225,"color":"#0000"},{"offset":0.724,"color":"#000"},{"offset":0.7255,"color":"#0000"},
{"offset":0.7305,"color":"#0000"},{"offset":0.732,"color":"#000"},{"offset":0.7335,"color":"#0000"},
{"offset":0.7385,"color":"#0000"},{"offset":0.740,"color":"#000"},{"offset":0.7415,"color":"#0000"},
{"offset":0.7465,"color":"#0000"},{"offset":0.748,"color":"#000"},{"offset":0.7495,"color":"#0000"},
{"offset":0.7545,"color":"#0000"},{"offset":0.756,"color":"#000"},{"offset":0.7575,"color":"#0000"},
{"offset":0.7625,"color":"#0000"},{"offset":0.764,"color":"#000"},{"offset":0.7655,"color":"#0000"},
{"offset":0.7705,"color":"#0000"},{"offset":0.772,"color":"#000"},{"offset":0.7735,"color":"#0000"},
{"offset":0.7785,"color":"#0000"},{"offset":0.780,"color":"#000"},{"offset":0.7815,"color":"#0000"},
{"offset":0.7865,"color":"#0000"},{"offset":0.788,"color":"#000"},{"offset":0.7895,"color":"#0000"},
{"offset":0.7945,"color":"#0000"},{"offset":0.796,"color":"#000"},{"offset":0.7975,"color":"#0000"},
{"offset":0.8025,"color":"#0000"},{"offset":0.804,"color":"#000"},{"offset":0.8055,"color":"#0000"},
{"offset":0.8105,"color":"#0000"},{"offset":0.812,"color":"#000"},{"offset":0.8135,"color":"#0000"},
{"offset":0.8185,"color":"#0000"},{"offset":0.820,"color":"#000"},{"offset":0.8215,"color":"#0000"},
{"offset":0.8265,"color":"#0000"},{"offset":0.828,"color":"#000"},{"offset":0.8295,"color":"#0000"},
{"offset":0.8345,"color":"#0000"},{"offset":0.836,"color":"#000"},{"offset":0.8375,"color":"#0000"},
{"offset":0.8425,"color":"#0000"},{"offset":0.844,"color":"#000"},{"offset":0.8455,"color":"#0000"},
{"offset":0.8505,"color":"#0000"},{"offset":0.852,"color":"#000"},{"offset":0.8535,"color":"#0000"},
{"offset":0.8585,"color":"#0000"},{"offset":0.860,"color":"#000"},{"offset":0.8615,"color":"#0000"},
{"offset":0.8665,"color":"#0000"},{"offset":0.868,"color":"#000"},{"offset":0.8695,"color":"#0000"},
{"offset":0.8745,"color":"#0000"},{"offset":0.876,"color":"#000"},{"offset":0.8775,"color":"#0000"},
{"offset":0.8825,"color":"#0000"},{"offset":0.884,"color":"#000"},{"offset":0.8855,"color":"#0000"},
{"offset":0.8905,"color":"#0000"},{"offset":0.892,"color":"#000"},{"offset":0.8935,"color":"#0000"},
{"offset":0.8985,"color":"#0000"},{"offset":0.900,"color":"#000"},{"offset":0.9015,"color":"#0000"},
{"offset":0.9065,"color":"#0000"},{"offset":0.908,"color":"#000"},{"offset":0.9095,"color":"#0000"},
{"offset":0.9145,"color":"#0000"},{"offset":0.916,"color":"#000"},{"offset":0.9175,"color":"#0000"},
{"offset":0.9225,"color":"#0000"},{"offset":0.924,"color":"#000"},{"offset":0.9255,"color":"#0000"},
{"offset":0.9305,"color":"#0000"},{"offset":0.932,"color":"#000"},{"offset":0.9335,"color":"#0000"},
{"offset":0.9385,"color":"#0000"},{"offset":0.940,"color":"#000"},{"offset":0.9415,"color":"#0000"},
{"offset":0.9465,"color":"#0000"},{"offset":0.948,"color":"#000"},{"offset":0.9495,"color":"#0000"},
{"offset":0.9545,"color":"#0000"},{"offset":0.956,"color":"#000"},{"offset":0.9575,"color":"#0000"},
{"offset":0.9625,"color":"#0000"},{"offset":0.964,"color":"#000"},{"offset":0.9655,"color":"#0000"},
{"offset":0.9705,"color":"#0000"},{"offset":0.972,"color":"#000"},{"offset":0.9735,"color":"#0000"},
{"offset":0.9785,"color":"#0000"},{"offset":0.980,"color":"#000"},{"offset":0.9815,"color":"#0000"},
{"offset":0.9865,"color":"#0000"},{"offset":0.988,"color":"#000"},{"offset":0.9895,"color":"#0000"},
{"offset":0.9945,"color":"#0000"},{"offset":0.996,"color":"#000"},{"offset":0.9975,"color":"#0000"}
          ]
        }
      },
      "encoding": {
        "y": {
          "field": "hi", "type": "quantitative",
          "scale": {"domain": [6, 7.5], "nice": false, "zero": false},
          "axis": {"values": [6, 6.25, 6.5, 6.75, 7, 7.25, 7.5], "labelExpr": "'' + datum.value", "title": null, "labelPadding": 5}
        },
        "y2": {"field": "lo"},
        "stroke": {
          "datum": "Contact zone", "type": "nominal",
          "scale": {
            "domain": ["Left profile contour", "Wetted zone", "Contact zone", "Right profile contour"],
            "range": ["#a8a8a8", "#000000", "#000000", "#a8a8a8"]
          }
        }
      }
    },
    {
      "data": {"name": "profiles"},
      "mark": {"type": "line", "strokeWidth": 2.5},
      "encoding": {
        "y": {
          "field": "value", "type": "quantitative",
          "scale": {"domain": [6, 7.5], "nice": false, "zero": false},
          "axis": {"values": [6, 6.25, 6.5, 6.75, 7, 7.25, 7.5], "labelExpr": "'' + datum.value", "title": null, "labelPadding": 5}
        },
        "detail": {"field": "series"},
        "stroke": {
          "field": "series", "type": "nominal",
          "scale": {
            "domain": ["Left profile contour", "Wetted zone", "Contact zone", "Right profile contour"],
            "range": ["#a8a8a8", "#000000", "#000000", "#a8a8a8"]
          }
        }
      }
    }
  ]
}
